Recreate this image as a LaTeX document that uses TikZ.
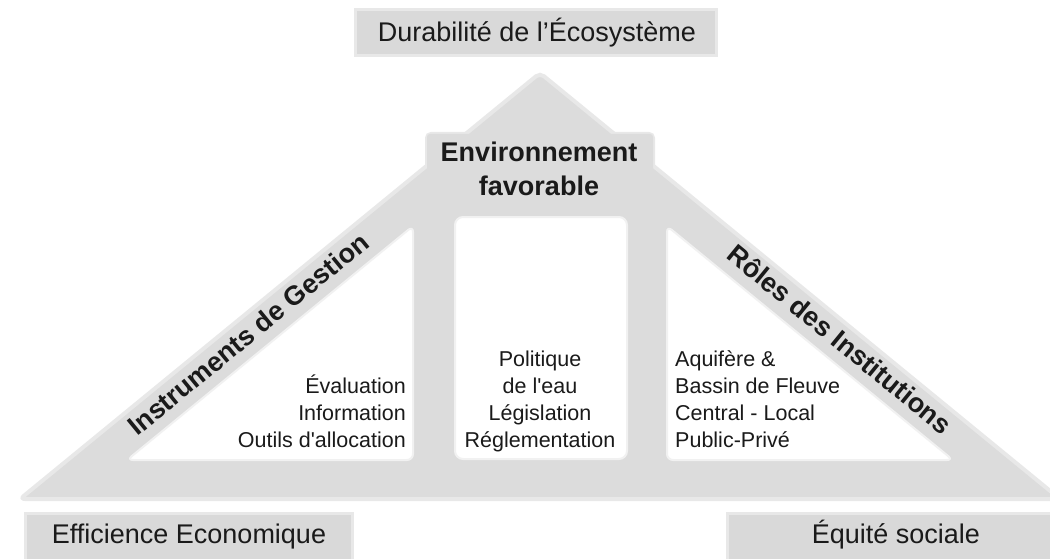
\documentclass[tikz,border=0pt]{standalone}
\usepackage{fontspec}
\setmainfont{Liberation Sans}[Ligatures=TeXOff]
\definecolor{trigray}{HTML}{DCDCDC}
\definecolor{boxgray}{HTML}{D9D9D9}
\definecolor{softgray}{HTML}{E8E8E8}
\definecolor{ink}{HTML}{1A1A1A}
\begin{document}
\begin{tikzpicture}[x=1pt,y=-1pt,
  big/.style={font=\fontsize{27}{32}\selectfont, text=ink, inner sep=0pt, anchor=base},
  small/.style={font=\fontsize{21.5}{27}\selectfont, text=ink, inner sep=0pt},
  boldlbl/.style={font=\bfseries\fontsize{27}{33}\selectfont, text=ink, inner sep=0pt},
  graybox/.style={fill=boxgray, draw=softgray, line width=3pt},
  panel/.style={fill=white, draw=white!60!trigray, line width=2pt}]
\useasboundingbox (0,0) rectangle (1050,559);
\fill[white] (0,0) rectangle (1050,559);
\begin{scope}
  \clip (0,0) rectangle (1050,559);
  % shoulder behind the central title (soft edge first)
  \draw[softgray, line width=4pt, rounded corners=4pt] (427,134) rectangle (653,222);
  % big triangle
  \filldraw[fill=trigray, draw=softgray, line width=4pt, rounded corners=5pt]
    (540,73) -- (1060,499) -- (20,499) -- cycle;
  \fill[trigray, rounded corners=3pt] (427,134) rectangle (653,222);
  % white panels
  \filldraw[panel, rounded corners=6pt] (127,460) -- (413,460) -- (413,226) -- cycle;
  \filldraw[panel, rounded corners=8pt] (455,217) rectangle (627,459);
  \filldraw[panel, rounded corners=6pt] (667,226) -- (667,460) -- (953,460) -- cycle;
  % grey boxes
  \filldraw[graybox] (355,10) rectangle (716,56);
  \filldraw[graybox] (25,513) rectangle (352,562);
  \filldraw[graybox] (727,513) rectangle (1055,562);
\end{scope}

\node[big] (title) at (537,42) {Durabilité de l’Écosystème};
\node[big] (effi) at (189,543) {Efficience Economique};
\node[big] (equi) at (896,543) {Équité sociale};

\node[boldlbl, anchor=base] (env1) at (539,162) {Environnement};
\node[boldlbl, anchor=base] (env2) at (539,195) {favorable};

\node[boldlbl, rotate=39.3] (instr) at (248,334) {Instruments de Gestion};
\node[boldlbl, rotate=-39.3] (roles) at (840,339) {Rôles des Institutions};

\node[small, anchor=base east] (l1) at (406,393) {Évaluation};
\node[small, anchor=base east] (l2) at (406,420) {Information};
\node[small, anchor=base east] (l3) at (406,447) {Outils d'allocation};

\node[small, anchor=base] (m1) at (540,366) {Politique};
\node[small, anchor=base] (m2) at (540,393) {de l'eau};
\node[small, anchor=base] (m3) at (540,420) {Législation};
\node[small, anchor=base] (m4) at (540,447) {Réglementation};

\node[small, anchor=base west] (r1) at (675,366) {Aquifère \&};
\node[small, anchor=base west] (r2) at (675,393) {Bassin de Fleuve};
\node[small, anchor=base west] (r3) at (675,420) {Central - Local};
\node[small, anchor=base west] (r4) at (675,447) {Public-Privé};
\end{tikzpicture}
\end{document}
